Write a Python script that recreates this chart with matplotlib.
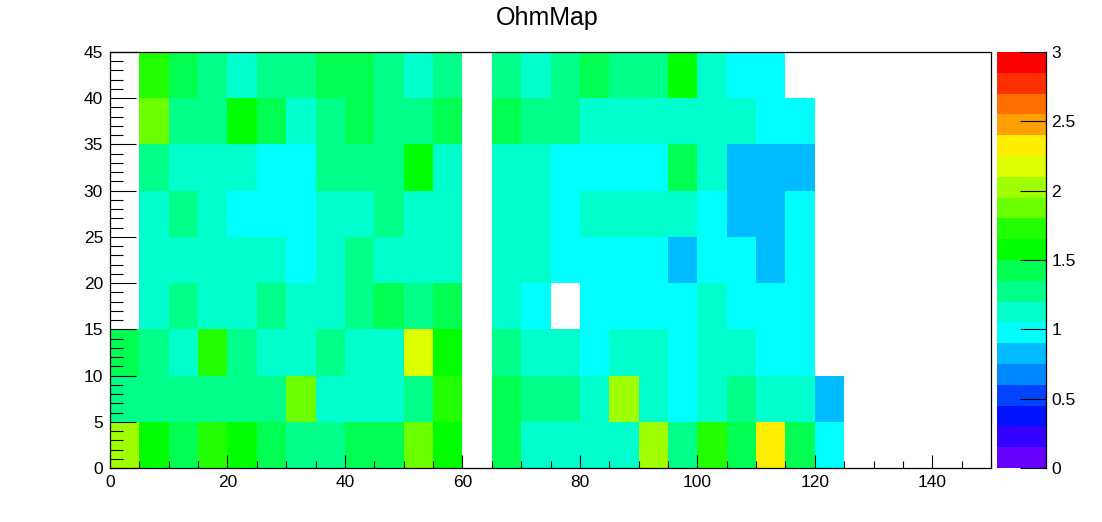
import numpy as np
import matplotlib
matplotlib.use('Agg')
import matplotlib.pyplot as plt
from matplotlib.colors import ListedColormap, BoundaryNorm
from matplotlib.ticker import MultipleLocator, FuncFormatter

plt.rcParams['font.family'] = ['Liberation Sans', 'DejaVu Sans']

nan = np.nan

# bins of the histogram (5 units wide)
x_edges = np.arange(0, 130, 5)
y_edges = np.arange(0, 50, 5)

# bin contents, one list per y bin (bottom to top); nan = empty bin
row_0_5 = [2.03, 1.58, 1.43, 1.73, 1.58, 1.43, 1.28, 1.28, 1.43, 1.43, 1.88, 1.58, nan,
           1.43, 1.13, 1.13, 1.13, 1.13, 2.03, 1.28, 1.73, 1.43, 2.33, 1.43, 0.98]
row_5_10 = [1.28, 1.28, 1.28, 1.28, 1.28, 1.28, 1.88, 1.13, 1.13, 1.13, 1.28, 1.73, nan,
            1.43, 1.28, 1.28, 1.13, 2.03, 1.13, 0.98, 1.13, 1.28, 1.13, 1.13, 0.83]
row_10_15 = [1.43, 1.28, 1.13, 1.73, 1.28, 1.13, 1.13, 1.28, 1.13, 1.13, 2.18, 1.58, nan,
             1.28, 1.13, 1.13, 0.98, 1.13, 1.13, 0.98, 1.13, 1.13, 0.98, 0.98, nan]
row_15_20 = [nan, 1.13, 1.28, 1.13, 1.13, 1.28, 1.13, 1.13, 1.28, 1.43, 1.28, 1.43, nan,
             1.13, 0.98, nan, 0.98, 0.98, 0.98, 0.98, 1.13, 0.98, 0.98, 0.98, nan]
row_20_25 = [nan, 1.13, 1.13, 1.13, 1.13, 1.13, 0.98, 1.13, 1.28, 1.13, 1.13, 1.13, nan,
             1.13, 1.13, 0.98, 0.98, 0.98, 0.98, 0.83, 0.98, 0.98, 0.83, 0.98, nan]
row_25_30 = [nan, 1.13, 1.28, 1.13, 0.98, 0.98, 0.98, 1.13, 1.13, 1.28, 1.13, 1.13, nan,
             1.13, 1.13, 0.98, 1.13, 1.13, 1.13, 1.13, 0.98, 0.83, 0.83, 0.98, nan]
row_30_35 = [nan, 1.28, 1.13, 1.13, 1.13, 0.98, 0.98, 1.28, 1.28, 1.28, 1.58, 1.13, nan,
             1.13, 1.13, 0.98, 0.98, 0.98, 0.98, 1.43, 1.13, 0.83, 0.83, 0.83, nan]
row_35_40 = [nan, 1.88, 1.28, 1.28, 1.58, 1.43, 1.13, 1.28, 1.43, 1.28, 1.28, 1.43, nan,
             1.43, 1.28, 1.28, 1.13, 1.13, 1.13, 1.13, 1.13, 1.13, 0.98, 0.98, nan]
row_40_45 = [nan, 1.73, 1.43, 1.28, 1.13, 1.28, 1.28, 1.43, 1.43, 1.28, 1.13, 1.28, nan,
             1.28, 1.13, 1.28, 1.43, 1.28, 1.28, 1.58, 1.13, 0.98, 0.98, nan, nan]

# 20 contour colours, ROOT style rainbow palette
palette = ['#6600ff', '#3300ff', '#0011ff', '#0044ff', '#0088ff',
           '#00bbff', '#00ffff', '#00ffcc', '#00ff88', '#00ff50',
           '#00ff00', '#22ff00', '#6cff00', '#a0ff00', '#ddff00',
           '#ffee00', '#ffa000', '#ff7000', '#ff3000', '#ff0000']
z_min, z_max = 0, 3

grid = np.ma.masked_invalid(np.array([row_0_5, row_5_10, row_10_15, row_15_20, row_20_25,
                                      row_25_30, row_30_35, row_35_40, row_40_45]))
cmap = ListedColormap(palette)
norm = BoundaryNorm(np.linspace(z_min, z_max, len(palette) + 1), cmap.N)

fig = plt.figure(figsize=(11.02, 5.22), dpi=100)
ax = fig.add_axes([110 / 1102, 54 / 522, 881 / 1102, 416 / 522])
cax = fig.add_axes([997 / 1102, 54 / 522, 49 / 1102, 416 / 522])

mesh = ax.pcolormesh(x_edges, y_edges, grid, cmap=cmap, norm=norm)
ax.set_xlim(0, 150)
ax.set_ylim(0, 45)

ax.xaxis.set_major_locator(MultipleLocator(20))
ax.xaxis.set_minor_locator(MultipleLocator(5))
ax.yaxis.set_major_locator(MultipleLocator(5))
ax.yaxis.set_minor_locator(MultipleLocator(1))
ax.tick_params(axis='both', which='both', direction='in', top=False, right=False,
               labelsize=12.5, width=0.8, pad=5)
ax.tick_params(axis='x', which='major', length=9.4)
ax.tick_params(axis='x', which='minor', length=5)
ax.tick_params(axis='y', which='major', length=18.7)
ax.tick_params(axis='y', which='minor', length=9.4)
for sp in ax.spines.values():
    sp.set_linewidth(0.9)

cbar = fig.colorbar(mesh, cax=cax)
cbar.outline.set_visible(False)
cax.spines['right'].set_visible(True)
cax.spines['right'].set_linewidth(0.9)
cbar.set_ticks(np.arange(0, 3.01, 0.5))
cax.yaxis.set_major_formatter(FuncFormatter(lambda v, p: '%g' % v))
cax.minorticks_off()
cax.tick_params(axis='y', direction='in', length=18.7, width=0.8, left=False, right=True,
                labelright=True, labelleft=False, labelsize=12.5, pad=4)

fig.text(547 / 1102, 1 - 18 / 522, 'OhmMap', ha='center', va='center', fontsize=18)

plt.savefig('out.png', dpi=100)
plt.close()
